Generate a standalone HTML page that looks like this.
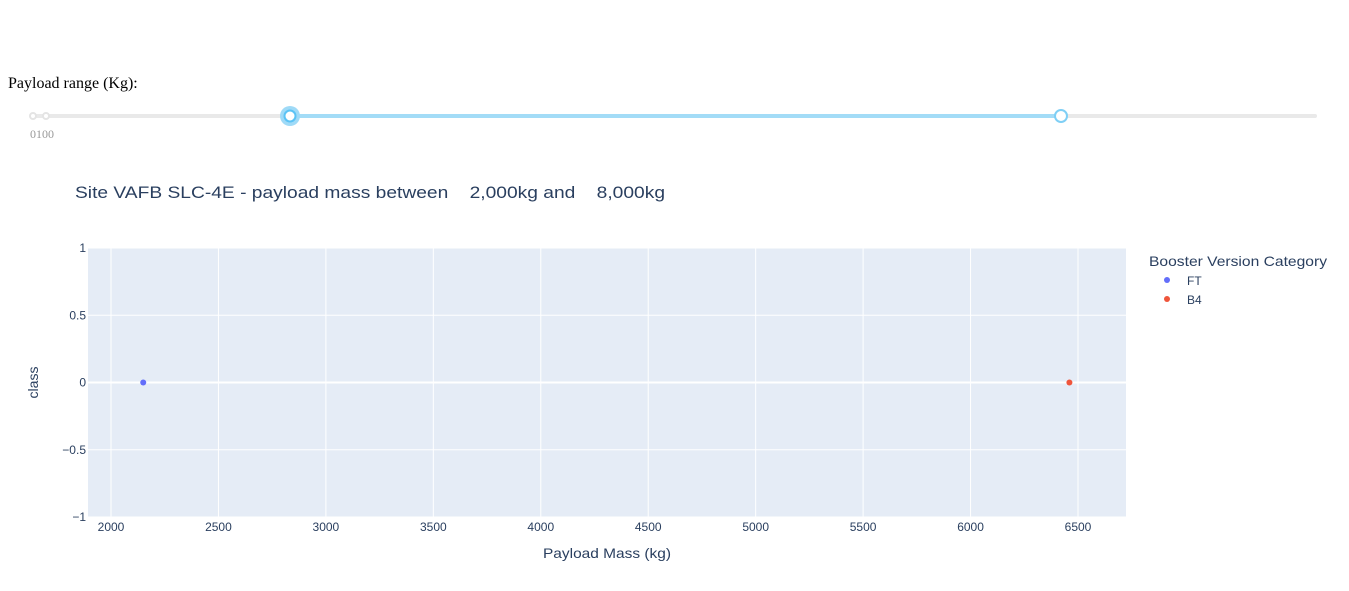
<!DOCTYPE html>
<html><head><meta charset="utf-8">
<style>
body{margin:0;width:1349px;height:591px;background:#fff;overflow:hidden;position:relative}
.lbl{position:absolute;left:8px;top:75px;font-family:"Liberation Serif",serif;font-size:16px;color:#000}
</style></head>
<body>
<div class="lbl">Payload range (Kg):</div>
<svg width="1349" height="591" style="position:absolute;left:0;top:0;pointer-events:none" xmlns="http://www.w3.org/2000/svg">
 <g style="pointer-events:auto">
  <rect x="33" y="114" width="1284" height="4" rx="2" fill="#e9e9e9"/>
  <rect x="290" y="114" width="771" height="4" fill="#a3dcf7"/>
  <circle cx="33" cy="116" r="3" fill="#fff" stroke="#e4e4e4" stroke-width="2"/>
  <circle cx="46" cy="116" r="3" fill="#fff" stroke="#e4e4e4" stroke-width="2"/>
  <text x="30" y="138" font-family="Liberation Serif,serif" font-size="12" fill="#999">0100</text>
  <circle cx="290" cy="116" r="10" fill="#9fdaf7"/>
  <circle cx="290" cy="116" r="5.5" fill="#fff" stroke="#5bc3f5" stroke-width="2"/>
  <circle cx="1061" cy="116" r="6" fill="#fff" stroke="#7fcff5" stroke-width="2"/>
 </g>
 <text x="75" y="198" font-family="Liberation Sans,sans-serif" font-size="17" fill="#2a3f5f" xml:space="preserve" textLength="590" lengthAdjust="spacingAndGlyphs">Site VAFB SLC-4E - payload mass between    2,000kg and    8,000kg</text>
 <rect x="88" y="248" width="1038" height="269" fill="#e5ecf6"/>
 <g id="grid"></g>
 <g id="pts"></g>
 <text x="543" y="558" font-family="Liberation Sans,sans-serif" font-size="14" fill="#2a3f5f" textLength="128" lengthAdjust="spacingAndGlyphs">Payload Mass (kg)</text>
 <text transform="translate(38,382.5) rotate(-90)" text-anchor="middle" font-family="Liberation Sans,sans-serif" font-size="14" fill="#2a3f5f">class</text>
 <g font-family="Liberation Sans,sans-serif" fill="#2a3f5f">
  <text x="1149" y="266" font-size="14" textLength="178" lengthAdjust="spacingAndGlyphs">Booster Version Category</text>
  <g><circle cx="1167" cy="280" r="3" fill="#636efa"/><text x="1187" y="285" font-size="12">FT</text></g>
  <g><circle cx="1167" cy="299" r="3" fill="#ef553b"/><text x="1187" y="304" font-size="12">B4</text></g>
 </g>
</svg>
<script>
const categories=["FT","B4"];
const payloads=[2150,6460];
const classes=[0,0];
const colors=["#636efa","#ef553b"];
const xTicks=[2000,2500,3000,3500,4000,4500,5000,5500,6000,6500];
const yTicks=[1,0.5,0,-0.5,-1];
const yTickLabels=["1","0.5","0","\u22120.5","\u22121"];
const NS="http://www.w3.org/2000/svg";
function xs(v){return 111+(v-2000)*(967/4500);}
function ys(v){return 382.5-v*134.5;}
const grid=document.getElementById('grid'),pts=document.getElementById('pts');
function mk(tag,attrs,parent){const e=document.createElementNS(NS,tag);for(const k in attrs)e.setAttribute(k,attrs[k]);parent.appendChild(e);return e;}
xTicks.forEach(t=>{
 const x=xs(t);
 const l=mk('line',{x1:x,x2:x,y1:248,y2:517,stroke:'#fff','stroke-width':1},grid);
 
 
 const tx=mk('text',{x:x,y:531,'text-anchor':'middle','font-family':'Liberation Sans,sans-serif','font-size':12,fill:'#2a3f5f'},grid);
 tx.textContent=t;
 
 
});
yTicks.forEach((t,i)=>{
 const y=ys(t);
 const l=mk('line',{x1:88,x2:1126,y1:y,y2:y,stroke:'#fff','stroke-width':t===0?2:1},grid);
 
 
 const tx=mk('text',{x:86,y:y+4,'text-anchor':'end','font-family':'Liberation Sans,sans-serif','font-size':12,fill:'#2a3f5f'},grid);
 tx.textContent=yTickLabels[i];
 
 
});
payloads.forEach((p,i)=>{
 const c=mk('circle',{cx:xs(p),cy:ys(classes[i]),r:3,fill:colors[i]},pts);
 
 
});
</script>
</body></html>
